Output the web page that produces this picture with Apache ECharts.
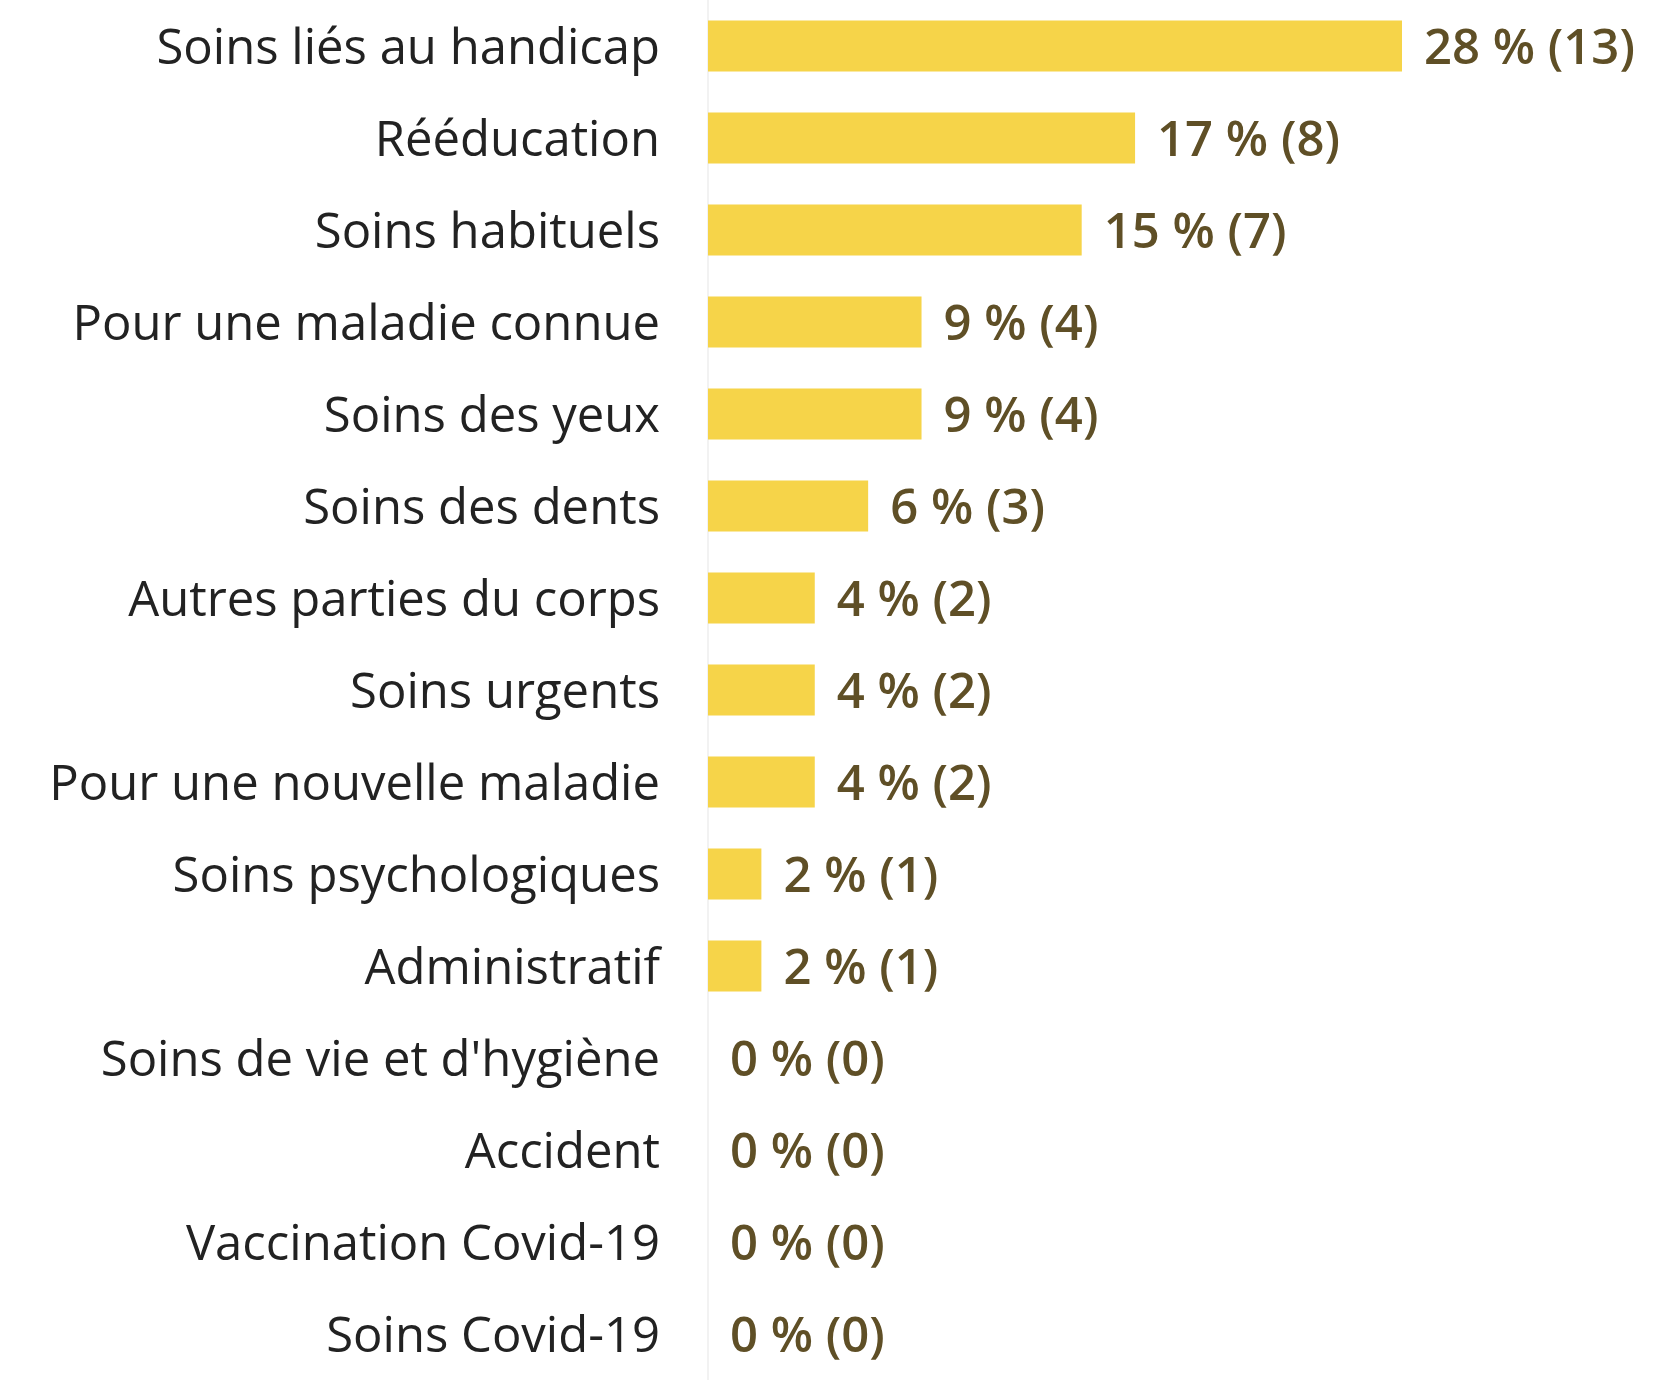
<!DOCTYPE html>
<html>
<head>
<meta charset="utf-8">
<script src="https://cdn.jsdelivr.net/npm/echarts@6/dist/echarts.min.js"></script>
<style>
  html, body { margin: 0; padding: 0; background: #fff; }
  #main { width: 1667px; height: 1380px; }
</style>
</head>
<body>
<div id="main"></div>
<script>
const categories = [
  "Soins liés au handicap",
  "Rééducation",
  "Soins habituels",
  "Pour une maladie connue",
  "Soins des yeux",
  "Soins des dents",
  "Autres parties du corps",
  "Soins urgents",
  "Pour une nouvelle maladie",
  "Soins psychologiques",
  "Administratif",
  "Soins de vie et d'hygiène",
  "Accident",
  "Vaccination Covid-19",
  "Soins Covid-19"
];
const counts = [13, 8, 7, 4, 4, 3, 2, 2, 2, 1, 1, 0, 0, 0, 0];
const percents = [28, 17, 15, 9, 9, 6, 4, 4, 4, 2, 2, 0, 0, 0, 0];

const chartDom = document.getElementById("main");
const myChart = echarts.init(chartDom);

const option = {
  animation: false,
  grid: {
    left: 708,
    right: 265,
    top: 0,
    bottom: -20,
    containLabel: false
  },
  xAxis: {
    type: "value",
    min: 0,
    max: 13,
    show: false
  },
  yAxis: {
    type: "category",
    data: categories,
    inverse: true,
    axisTick: { show: false },
    axisLine: { show: true, lineStyle: { color: "#f2f2f2", width: 2 } },
    axisLabel: {
      margin: 48,
      formatter: function (value) {
        return "{t|" + value + "}";
      },
      rich: {
        t: {
          fontFamily: "Open Sans",
          fontSize: 49,
          color: "#222222",
          padding: [8, 0, 0, 0]
        }
      }
    }
  },
  series: [
    {
      type: "bar",
      data: counts,
      barWidth: 51,
      itemStyle: { color: "#F6D449" },
      label: {
        show: true,
        position: "right",
        distance: 22,
        offset: [0, 4],
        fontFamily: "Open Sans",
        fontWeight: 600,
        fontSize: 49,
        color: "#5f4f26",
        formatter: function (params) {
          return percents[params.dataIndex] + " % (" + params.value + ")";
        }
      }
    }
  ]
};

myChart.setOption(option);
</script>
</body>
</html>
